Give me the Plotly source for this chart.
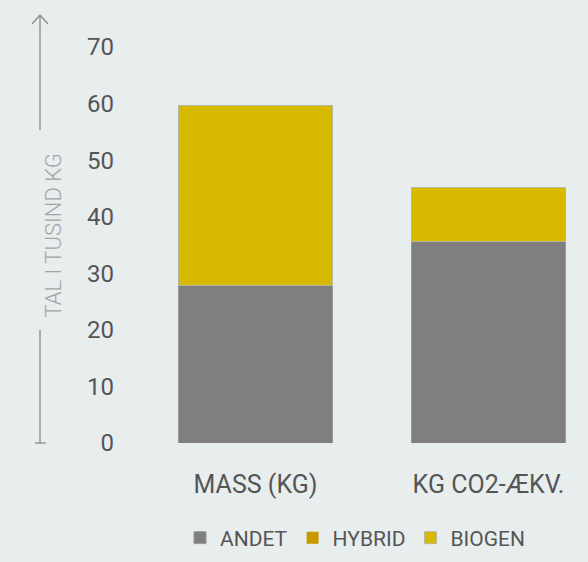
import plotly.graph_objects as go

categories = ["MASS (KG)", "KG CO2-ÆKV."]
andet = [27.8, 35.6]
hybrid = [0, 0]
biogen = [31.8, 9.5]

W, H = 588, 562
L, R, T, B = 139, 0, 47, 119
pw, ph = W - L - R, H - T - B


def px(x):
    return (x - L) / pw


def py(y):
    return (H - B - y) / ph


bg = "#e8eeee"
font = "Roboto"

fig = go.Figure()
fig.add_trace(go.Bar(x=categories, y=andet, name="ANDET", marker_color="#7f7f7f",
                     marker_line=dict(color="#9a9a9a", width=1)))
fig.add_trace(go.Bar(x=categories, y=hybrid, name="HYBRID", marker_color="#c99a00",
                     marker_line=dict(color="#b8b8a0", width=0)))
fig.add_trace(go.Bar(x=categories, y=biogen, name="BIOGEN", marker_color="#d7b900",
                     marker_line=dict(color="#b8b8a0", width=1)))

# axis title with arrow lines
lc = "#8a8a8a"
xl = px(40)
shapes = [
    dict(type="line", xref="paper", yref="paper", x0=xl, x1=xl, y0=py(15), y1=py(130),
         line=dict(color=lc, width=1.3)),
    dict(type="line", xref="paper", yref="paper", x0=px(32), x1=xl, y0=py(24), y1=py(15),
         line=dict(color=lc, width=1.3)),
    dict(type="line", xref="paper", yref="paper", x0=px(48), x1=xl, y0=py(24), y1=py(15),
         line=dict(color=lc, width=1.3)),
    dict(type="line", xref="paper", yref="paper", x0=xl, x1=xl, y0=py(330), y1=py(443),
         line=dict(color=lc, width=1.3)),
    dict(type="line", xref="paper", yref="paper", x0=px(35), x1=px(46), y0=py(443), y1=py(443),
         line=dict(color=lc, width=1.3)),
]

fig.update_layout(
    width=W, height=H,
    barmode="stack", bargap=0.335,
    paper_bgcolor=bg, plot_bgcolor=bg,
    margin=dict(l=L, r=R, t=T, b=B),
    font=dict(family=font, color="#555555"),
    shapes=shapes,
    annotations=[dict(text="TAL I TUSIND KG", xref="paper", yref="paper", x=px(38), y=py(236),
                      textangle=-90, showarrow=False,
                      font=dict(size=22, color="#a4a4a4", weight=300))],
    xaxis=dict(range=[-0.5, 1.427], showgrid=False, zeroline=False, showline=False,
               ticks="", tickfont=dict(size=25, color="#555555"), ticklabelstandoff=24,
               fixedrange=True),
    yaxis=dict(range=[0, 70], dtick=10, showgrid=False, zeroline=False, showline=False,
               ticks="", tickfont=dict(size=24, color="#555555"), ticklabelstandoff=24,
               fixedrange=True),
    legend=dict(orientation="h", x=px(355), xanchor="center", y=py(538), yanchor="middle",
                font=dict(size=21, color="#555555"), traceorder="normal",
                itemwidth=30, bgcolor="rgba(0,0,0,0)"),
    showlegend=True,
)

fig.write_html("out.html", config={"displayModeBar": False},
               post_script="document.body.style.margin='0';")
